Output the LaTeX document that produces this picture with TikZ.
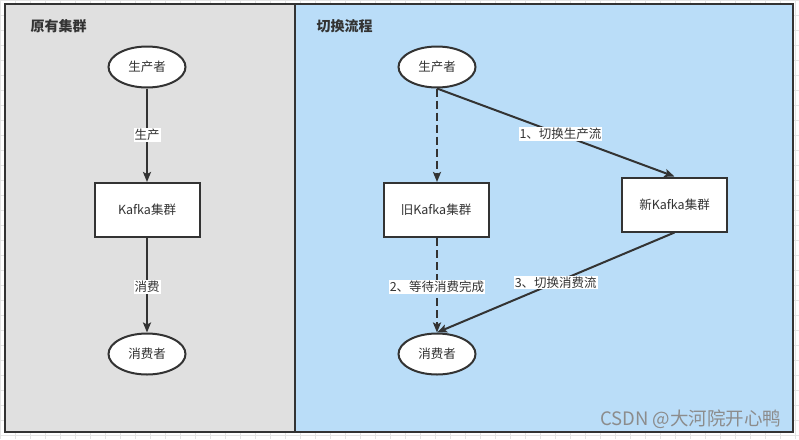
\documentclass[tikz,border=0pt]{standalone}
\usepackage{fontspec}
\setmainfont{Noto Sans CJK SC}
\usetikzlibrary{arrows.meta,shapes.geometric}
\definecolor{edgec}{HTML}{333333}
\definecolor{leftbg}{HTML}{E0E0E0}
\definecolor{rightbg}{HTML}{BADDF8}
\definecolor{gridc}{HTML}{E4E4E4}
\tikzset{
  panel/.style={draw=edgec,line width=2.2pt},
  oval/.style={ellipse,draw=edgec,fill=white,line width=2pt,minimum width=77pt,minimum height=41pt,inner sep=0pt,font=\fontsize{12.5}{14}\selectfont,text=edgec},
  box/.style={rectangle,draw=edgec,fill=white,line width=2pt,minimum width=105pt,minimum height=54pt,inner sep=0pt,font=\fontsize{12.5}{14}\selectfont,text=edgec},
  conn/.style={draw=edgec,line width=2pt,-{Stealth[length=10pt,width=8pt,inset=2pt]}},
  dconn/.style={conn,dash pattern=on 8pt off 4pt},
  lbl/.style={fill=white,inner sep=1pt,font=\fontsize{12.5}{14}\selectfont,text=edgec},
  ttl/.style={font=\fontsize{14}{16}\selectfont\bfseries,text=edgec,anchor=west}
}
\begin{document}
\begin{tikzpicture}[x=1pt,y=-1pt]
\useasboundingbox (0,0) rectangle (799,439);
\fill[white] (0,0) rectangle (799,439);
\draw[gridc,line width=0.5pt] (0,0) grid[step=15pt] (799,439);
% panels
\filldraw[panel,fill=leftbg] (5,4) rectangle (295,432);
\filldraw[panel,fill=rightbg] (295,4) rectangle (793,432);
\node[ttl] (t1) at (27,26) {原有集群};
\node[ttl] (t2) at (313,26) {切换流程};
% left
\node[oval] (lp) at (147,67) {生产者};
\node[box] (lk) at (147,210) {Kafka集群};
\node[oval] (lc) at (147,354) {消费者};
\draw[conn] (lp) -- node[lbl] {生产} (lk);
\draw[conn] (lk) -- node[lbl,pos=0.52] {消费} (lc);
% right
\node[oval] (rp) at (437,67) {生产者};
\node[box] (ok) at (436,210) {旧Kafka集群};
\node[box] (nk) at (674.5,204.5) {新Kafka集群};
\node[oval] (rc) at (437,354) {消费者};
\draw[dconn] (rp.south) -- (ok.north -| rp.south);
\draw[dconn] (ok.south -| rc.north) -- node[lbl,pos=0.52] {2、等待消费完成} (rc.north);
\draw[conn] (rp.south) -- node[lbl,pos=0.52] {1、切换生产流} (nk.north);
\draw[conn] (nk.south) -- node[lbl,pos=0.5] {3、切换消费流} (rc.north);
% watermark
\node[anchor=east,text=black!45,font=\fontsize{18.5}{20}\selectfont] (wm) at (785,419) {CSDN @大河院开心鸭};
\end{tikzpicture}
\end{document}
